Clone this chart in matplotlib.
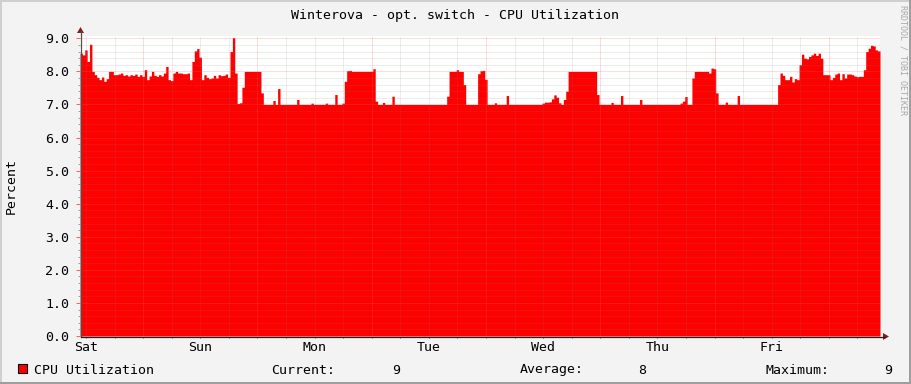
import numpy as np
import matplotlib
matplotlib.use('Agg')
import matplotlib.pyplot as plt
from matplotlib.patches import Rectangle, Polygon
from matplotlib.lines import Line2D
import matplotlib.transforms as mtransforms

# ---------------- data (30-minute samples over one week) ----------------
cpu_sat = [8.55, 8.5, 8.65, 8.3, 8.82, 8.0, 7.9, 7.82, 7.75, 7.83, 7.7, 7.78,
           8.0, 8.0, 7.9, 7.9, 7.92, 7.95, 7.88, 7.9, 7.86, 7.9, 7.88, 7.92,
           7.85, 7.9, 7.85, 8.05, 7.75, 7.86, 8.0, 7.88, 7.85, 7.9, 7.86, 7.95,
           8.15, 7.75, 7.72, 7.95, 8.0, 7.95, 7.95, 7.93, 7.93, 7.95, 7.75, 8.3]
cpu_sun = [8.62, 8.69, 8.43, 7.75, 7.9, 7.82, 7.78, 7.8, 7.88, 7.8, 7.9, 7.87,
           7.88, 7.92, 7.82, 8.6, 9.02, 7.95, 7.03, 7.05, 7.52, 8.0, 8.0, 8.0,
           8.0, 8.0, 8.0, 8.0, 7.35, 7.0, 7.0, 7.0, 7.0, 7.12, 7.0, 7.48,
           7.0, 7.0, 7.0, 7.0, 7.0, 7.0, 7.0, 7.15, 7.0, 7.0, 7.0, 7.0]
cpu_mon = [7.0, 7.04, 7.0, 7.0, 7.0, 7.0, 7.0, 7.04, 7.0, 7.0, 7.0, 7.3,
           7.0, 7.0, 7.04, 7.7, 8.02, 8.03, 8.0, 8.0, 8.0, 8.0, 8.0, 8.0,
           8.0, 8.0, 8.0, 8.08, 7.1, 7.0, 7.0, 7.06, 7.0, 7.0, 7.0, 7.25,
           7.0, 7.0, 7.0, 7.0, 7.0, 7.0, 7.0, 7.0, 7.0, 7.0, 7.0, 7.0]
cpu_tue = [7.0, 7.0, 7.0, 7.0, 7.0, 7.0, 7.0, 7.0, 7.0, 7.0, 7.25, 8.0,
           8.0, 8.0, 8.05, 8.0, 8.0, 7.6, 7.0, 7.0, 7.0, 7.0, 7.0, 7.93,
           8.02, 8.03, 7.76, 7.0, 7.0, 7.0, 7.05, 7.0, 7.0, 7.0, 7.0, 7.27,
           7.0, 7.0, 7.0, 7.0, 7.0, 7.0, 7.0, 7.0, 7.0, 7.0, 7.0, 7.0]
cpu_wed = [7.0, 7.0, 7.04, 7.07, 7.07, 7.08, 7.17, 7.29, 7.22, 7.05, 7.0, 7.15,
           7.4, 8.0, 8.0, 8.0, 8.0, 8.0, 8.0, 8.0, 8.0, 8.0, 8.0, 8.0,
           8.0, 7.3, 7.0, 7.0, 7.0, 7.0, 7.0, 7.06, 7.0, 7.0, 7.0, 7.27,
           7.0, 7.0, 7.0, 7.0, 7.0, 7.0, 7.0, 7.15, 7.0, 7.0, 7.0, 7.0]
cpu_thu = [7.0, 7.0, 7.0, 7.0, 7.0, 7.0, 7.0, 7.0, 7.0, 7.0, 7.0, 7.0,
           7.04, 7.1, 7.24, 7.0, 7.0, 7.8, 8.0, 8.0, 8.0, 8.0, 8.0, 8.0,
           7.95, 8.1, 8.08, 7.35, 7.0, 7.0, 7.0, 7.07, 7.0, 7.0, 7.0, 7.0,
           7.27, 7.0, 7.0, 7.0, 7.0, 7.0, 7.0, 7.0, 7.0, 7.0, 7.0, 7.0]
cpu_fri = [7.0, 7.0, 7.0, 7.0, 7.0, 7.6, 7.95, 7.88, 7.75, 7.75, 7.85, 7.68,
           7.78, 7.75, 8.2, 8.52, 8.4, 8.38, 8.45, 8.5, 8.55, 8.48, 8.55, 8.4,
           7.9, 7.9, 7.9, 7.75, 7.82, 7.92, 7.95, 7.75, 7.93, 7.8, 7.92, 7.92,
           7.9, 7.86, 7.84, 7.85, 7.85, 8.05, 8.6, 8.7, 8.79, 8.77, 8.65, 8.62]

day_labels = ['Sat', 'Sun', 'Mon', 'Tue', 'Wed', 'Thu', 'Fri']
y_tick_labels = ['0.0', '1.0', '2.0', '3.0', '4.0', '5.0', '6.0', '7.0', '8.0', '9.0']
title = 'Winterova - opt. switch - CPU Utilization'
legend_label = 'CPU Utilization'
stat_current = '9'
stat_average = '8'
stat_maximum = '9'

# ---------------- figure ----------------
W, H = 911, 384
MONO = 'DejaVu Sans Mono'
FS = 9.5
fig = plt.figure(figsize=(W / 100, H / 100), dpi=100)
fig.patch.set_facecolor('#F3F3F3')

def fx(px):
    return px / W

def fy(py):
    return 1 - py / H

# plot area: x 80..880 px, y 36..336 px
ax = fig.add_axes([fx(80), fy(336), 800 / W, 300 / H])
ax.set_facecolor('white')

cpu = np.array(cpu_sat + cpu_sun + cpu_mon + cpu_tue + cpu_wed + cpu_thu + cpu_fri)
hours = np.arange(len(cpu)) * 0.5
xs = np.append(hours, 168.0)
ys = np.append(cpu, cpu[-1])
ax.fill_between(xs, 0, ys, step='post', color='#FF0000', lw=0, zorder=1)

YMAX = 9.07
ax.set_xlim(0, 168)
ax.set_ylim(0, YMAX)
for s in ax.spines.values():
    s.set_visible(False)

# grid
offset = 1.25
minor_col = (0.5, 0.5, 0.5, 0.28)
major_col = (1.0, 0.37, 0.37, 0.42)
dot = (0, (1, 1))
for k in range(1, 46):
    v = k * 0.2
    col = major_col if k % 5 == 0 else minor_col
    ax.axhline(v, color=col, lw=0.72, ls=dot, zorder=2)
vpos = [offset + 6 * k for k in range(28)]
major_v = [offset + 12 + 24 * k for k in range(7)]
for v in vpos:
    is_major = any(abs(v - m) < 1e-6 for m in major_v)
    ax.axvline(v, color=major_col if is_major else minor_col, lw=0.72, ls=dot, zorder=2)

# x tick marks below the axis
bt = mtransforms.blended_transform_factory(ax.transData, ax.transAxes)
for v in vpos:
    is_major = any(abs(v - m) < 1e-6 for m in major_v)
    ax.plot([v, v], [0, -0.008], transform=bt, clip_on=False,
            color='#FF8080' if is_major else '#A0A0A0', lw=0.72, zorder=3)

# ticks / labels
ax.set_yticks(np.arange(10) * 1.0)
ax.set_yticklabels(y_tick_labels, fontfamily=MONO, fontsize=FS)
ax.set_yticks(np.arange(0, 9.01, 0.2), minor=True)
ax.tick_params(axis='y', which='major', length=3, width=0.72, color='#FF6060',
               direction='out', pad=4.6, labelcolor='black')
ax.tick_params(axis='y', which='minor', length=1.5, width=0.72, color='#A0A0A0', direction='out')
ax.set_xticks([offset + 24 * k for k in range(7)])
ax.set_xticklabels(day_labels, fontfamily=MONO, fontsize=FS)
ax.tick_params(axis='x', which='major', length=0, pad=3.5, labelcolor='black')

# axis lines + arrows
def L(x0, y0, x1, y1, **kw):
    fig.add_artist(Line2D([fx(x0), fx(x1)], [fy(y0), fy(y1)], transform=fig.transFigure, **kw))

L(80.5, 336.5, 80.5, 31, color='#505050', lw=0.9)
L(80.5, 336.5, 885, 336.5, color='#202020', lw=0.9)
fig.add_artist(Polygon([[fx(77), fy(33)], [fx(84), fy(33)], [fx(80.5), fy(27)]],
                       closed=True, transform=fig.transFigure, color='#7F1F1F', lw=0))
fig.add_artist(Polygon([[fx(883), fy(333)], [fx(883), fy(340)], [fx(889), fy(336.5)]],
                       closed=True, transform=fig.transFigure, color='#7F1F1F', lw=0))

# texts
def T(px, py, s, **kw):
    kw.setdefault('fontfamily', MONO)
    kw.setdefault('fontsize', FS)
    kw.setdefault('va', 'baseline')
    fig.text(fx(px), fy(py), s, **kw)

T(455, 19, title, ha='center')
T(11, 186, 'Percent', ha='center', va='center', rotation=90)
T(902.5, 5, 'RRDTOOL / TOBI OETIKER', ha='center', va='top', rotation=270,
  fontsize=6.0, color='#A8A8A8')

# legend row
fig.add_artist(Rectangle((fx(18), fy(373)), 9 / W, 9 / H, transform=fig.transFigure,
                         facecolor='#FF0000', edgecolor='black', lw=0.8))
T(34, 373.5, legend_label)
T(271.5, 373.5, 'Current:')
T(392, 373.5, stat_current)
T(519.5, 373.5, 'Average:')
T(638, 373.5, stat_average)
T(765, 373.5, 'Maximum:')
T(884, 373.5, stat_maximum)

# 3D border
fig.add_artist(Rectangle((0, fy(2)), 1, 2 / H, transform=fig.transFigure, color='#CFCFCF', lw=0))
fig.add_artist(Rectangle((0, 0), 2 / W, 1, transform=fig.transFigure, color='#CFCFCF', lw=0))
fig.add_artist(Rectangle((0, 0), 1, 2 / H, transform=fig.transFigure, color='#9E9E9E', lw=0))
fig.add_artist(Rectangle((fx(909), 0), 2 / W, 1, transform=fig.transFigure, color='#9E9E9E', lw=0))

fig.savefig('out.png', dpi=100, facecolor=fig.get_facecolor())
